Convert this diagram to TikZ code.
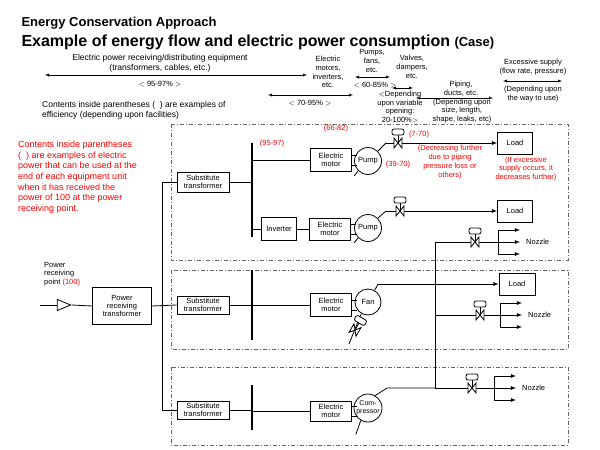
\documentclass[tikz,border=0pt]{standalone}
\usepackage{fontspec}
\setmainfont{Liberation Sans}
\usetikzlibrary{calc,shapes,arrows,positioning}

\tikzset{
  box/.style={draw, thick, fill=white, align=center, inner sep=1pt, font=\fontsize{7.5}{8}\selectfont},
  mach/.style={draw, thick, circle, fill=white, minimum size=27pt, inner sep=0pt, align=center, font=\fontsize{7.5}{7.5}\selectfont},
  area/.style={draw=gray!80!black, thick, dash pattern=on 4pt off 2pt on 1pt off 2pt},
  note/.style={align=center, font=\fontsize{7.5}{8.8}\selectfont, inner sep=0pt},
  rnote/.style={note, text=red},
  pipe/.style={thick},
  flow/.style={thick, -latex},
  span/.style={thin, latex-latex},
  valve/.pic={
    \draw[thick, fill=white] (-4,-5) -- (-4,5) -- (4,-5) -- (4,5) -- cycle;
    \draw[thick] (0,0) -- (0,-9);
    \draw[thick, fill=white, rounded corners=2pt] (-6,-8) rectangle (6,-14);
  }
}

\begin{document}
\begin{tikzpicture}[x=1pt, y=-1pt]
  \useasboundingbox (0,0) rectangle (600,450);

  % titles
  \node[anchor=west, font=\bfseries\fontsize{13}{13}\selectfont] (t1) at (18,23) {Energy Conservation Approach};
  \node[anchor=west, font=\bfseries\fontsize{16}{16}\selectfont] (t2) at (18,42) {Example of energy flow and electric power consumption {\fontsize{13}{13}\selectfont(Case)}};

  % efficiency ranges
  \node[note, font=\fontsize{8.5}{10}\selectfont] (h1) at (160,63) {Electric power receiving/distributing equipment\\(transformers, cables, etc.)};
  \coordinate (a1) at (45,75); \coordinate (a2) at (307,75);
  \draw[span] (a1) -- (a2);
  \node[note] (e1) at (160,84) {$<$ 95-97\% $>$};
  \node[note, anchor=west, font=\fontsize{8.5}{10}\selectfont, align=left] (h0) at (42,110) {Contents inside parentheses (\ \ ) are examples of\\efficiency (depending upon facilities)};
  \node[note] (h2) at (328,72) {Electric\\motors,\\inverters,\\etc.};
  \coordinate (b1) at (268,95); \coordinate (b2) at (353,95);
  \draw[span] (b1) -- (b2);
  \node[note] (e2) at (310,103) {$<$ 70-95\% $>$};
  \node[note] (h3) at (372,61) {Pumps,\\fans,\\etc.};
  \coordinate (c1) at (355,77); \coordinate (c2) at (390,77);
  \draw[span] (c1) -- (c2);
  \node[note] (e3) at (375,85) {$<$ 60-85\% $>$};
  \coordinate (d1) at (392,88); \coordinate (d2) at (413,88);
  \draw[span] (d1) -- (d2);
  \node[note] (h4) at (412,67) {Valves,\\dampers,\\etc.};
  \node[note] (e4) at (400,107) {$<$Depending\\upon variable\\opening:\\20-100\%$>$};
  \node[note] (h5) at (461,89) {Piping,\\ducts, etc.};
  \coordinate (f1) at (416,98); \coordinate (f2) at (493,98);
  \draw[span] (f1) -- (f2);
  \node[note] (e5) at (462,111) {(Depending upon\\size, length,\\shape, leaks, etc)};
  \node[note] (h6) at (533,67) {Excessive supply\\(flow rate, pressure)};
  \coordinate (g1) at (503,81); \coordinate (g2) at (562,81);
  \draw[span] (g1) -- (g2);
  \node[note] (e6) at (533,94) {(Depending upon\\the way to use)};

  % note on the left
  \node[rnote, anchor=north west, align=left, font=\fontsize{9}{10.6}\selectfont] (red) at (18,141)
    {Contents inside parentheses\\(\ \ ) are examples of electric\\power that can be used at the\\end of each equipment unit\\when it has received the\\power of 100 at the power\\receiving point.};

  % facility areas
  \draw[area] (171,124) rectangle (568,260);
  \draw[area] (171,270) rectangle (568,349);
  \draw[area] (171,367) rectangle (568,445);

  % receiving point
  \node[note, anchor=west, align=left] (rp) at (44,274) {Power\\receiving\\point {\color{red}(100)}};
  \coordinate (in) at (40,305);
  \node[draw, thick, isosceles triangle, minimum height=12pt, minimum width=11pt, inner sep=0pt, fill=white] (tri) at (61,305) {};
  \node[box, minimum width=59pt, minimum height=37pt] (prt) at (122,306) {Power\\receiving\\transformer};
  \draw[pipe] (in) -- (tri.west);
  \draw[pipe] (tri.east) -- (prt.west);

  % trunk and substitute transformers
  \node[box, minimum width=52pt, minimum height=20pt] (st1) at (203,182) {Substitute\\transformer};
  \node[box, minimum width=52pt, minimum height=18pt] (st2) at (203,305) {Substitute\\transformer};
  \node[box, minimum width=52pt, minimum height=18pt] (st3) at (203,410) {Substitute\\transformer};
  \coordinate (k1) at (162,182); \coordinate (k3) at (162,410);
  \draw[pipe] (st1.west) -- (k1) -- (k3) -- (st3.west);
  \draw[pipe] (prt.east) -- (st2.west);

  % buses
  \coordinate (u1) at (252,143); \coordinate (v1) at (252,237);
  \coordinate (u2) at (252,270); \coordinate (v2) at (252,340);
  \coordinate (u3) at (252,385); \coordinate (v3) at (252,430);
  \draw[very thick] (u1) -- (v1);
  \draw[very thick] (u2) -- (v2);
  \draw[very thick] (u3) -- (v3);
  \draw[pipe] (st1.east) -- (st1.east -| u1);
  \draw[pipe] (st2.east) -- (st2.east -| u2);
  \draw[pipe] (st3.east) -- (st3.east -| u3);
  \node[rnote] at (272,144) {(95-97)};

  % row 1: motor and pump
  \node[box, minimum width=41pt, minimum height=23pt] (m1) at (331,160) {Electric\\motor};
  \node[mach] (p1) at (368,161) {Pump};
  \draw[pipe] (m1.west -| u1) -- (m1.west);
  \draw[pipe] ($(m1.east)+(0,-5)$) -- ++(5,0);
  \draw[pipe] ($(m1.east)+(0,5)$) -- ++(5,0);
  \draw[pipe] (p1.225) -- ++(-4,5);
  \node[rnote] at (336,129) {(66-82)};
  \node[rnote] at (398,165) {(39-70)};
  \node[box, minimum width=35pt, minimum height=22pt] (ld1) at (515,143) {Load};
  \coordinate (q1) at (386,143);
  \draw[pipe] (p1.45) -- (q1);
  \draw[flow] (q1) -- (ld1.west);
  \pic at (398,143) {valve};
  \node[rnote] at (419,135) {(7-70)};
  \node[rnote] at (450,162) {(Decreasing further\\due to piping\\pressure loss or\\others)};
  \node[rnote] at (526,169) {(If excessive\\supply occurs, it\\decreases further)};

  % row 1b: inverter, motor and pump
  \node[box, minimum width=35pt, minimum height=23pt] (inv) at (279,229) {Inverter};
  \node[box, minimum width=41pt, minimum height=22pt] (m2) at (330,229) {Electric\\motor};
  \node[mach] (p2) at (368,228) {Pump};
  \draw[pipe] (inv.west -| u1) -- (inv.west);
  \draw[pipe] (inv.east) -- (m2.west);
  \draw[pipe] ($(m2.east)+(0,-5)$) -- ++(5,0);
  \draw[pipe] ($(m2.east)+(0,5)$) -- ++(5,0);
  \draw[pipe] (p2.225) -- ++(-4,5);
  \node[box, minimum width=35pt, minimum height=22pt] (ld2) at (515,211) {Load};
  \coordinate (q2) at (386,211);
  \draw[pipe] (p2.45) -- (q2);
  \draw[flow] (q2) -- (ld2.west);
  \pic at (400,211) {valve};

  % row 2: motor and fan
  \node[box, minimum width=41pt, minimum height=23pt] (m3) at (331,305) {Electric\\motor};
  \node[mach, minimum size=26pt] (fan) at (368,302) {Fan};
  \draw[pipe] (m3.west -| u2) -- (m3.west);
  \draw[pipe] ($(m3.east)+(0,-5)$) -- ++(5,0);
  \draw[pipe] ($(m3.east)+(0,5)$) -- ++(5,0);
  \coordinate (q3) at (378,284);
  \node[box, minimum width=36pt, minimum height=22pt] (ld3) at (517,284) {Load};
  \draw[pipe] (fan.60) -- (q3);
  \draw[flow] (q3) -- (ld3.west);
  \coordinate (fb) at (349,344);
  \draw[pipe] (fan.240) -- (fb);
  \pic[rotate=-30] at (355,330) {valve};

  % row 3: motor and compressor
  \node[box, minimum width=41pt, minimum height=20pt] (m4) at (331,411) {Electric\\motor};
  \node[mach, minimum size=28pt, font=\fontsize{7}{7.5}\selectfont] (cp) at (368,408) {Com-\\pressor};
  \draw[pipe] (m4.west -| u3) -- (m4.west);
  \draw[pipe] ($(m4.east)+(0,-5)$) -- ++(5,0);
  \draw[pipe] ($(m4.east)+(0,5)$) -- ++(5,0);
  \draw[pipe] (cp.240) -- ++(-5,14);
  \coordinate (q4) at (387,388);

  % nozzle header
  \coordinate (j1) at (435,242); \coordinate (j2) at (435,315); \coordinate (j3) at (435,388);
  \draw[pipe] (cp.60) -- (q4) -- (j3);
  \draw[pipe] (j1) -- (j3);
  \foreach \j/\x/\b/\t in {j1/498/475/Nozzle, j2/500/480/Nozzle, j3/494/472/Nozzle} {
    \coordinate (s) at (\x,0);
    \draw[pipe] (\j) -- (\j -| s);
    \draw[pipe] ($(\j -| s)+(0,-12)$) -- ($(\j -| s)+(0,12)$);
    \foreach \d in {-12,0,12}
      \draw[flow] ($(\j -| s)+(0,\d)$) -- ++(22,0);
    \pic at (\j -| \b,0) {valve};
    \node[note, anchor=west] at ($(\j -| s)+(28,0)$) {\t};
  }
\end{tikzpicture}
\end{document}
